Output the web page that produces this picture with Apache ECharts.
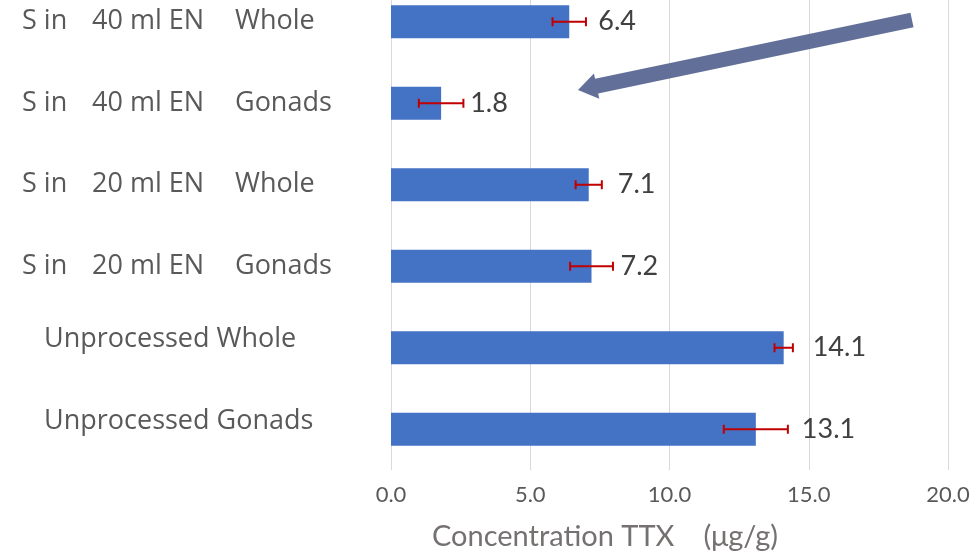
<!DOCTYPE html>
<html lang="en">
<head>
    <meta charset="UTF-8">
    <title>ttx_bar</title>
    <script src="https://cdn.jsdelivr.net/npm/echarts@6/dist/echarts.min.js"></script>
    <style>
        html, body { margin: 0; padding: 0; background: #fff; }
        #main { width: 980px; height: 556px; }
    </style>
</head>
<body>
<div id="main"></div>
<script>
    // categories, top to bottom
    var categories = [
        'S in 40 ml EN Whole',
        'S in 40 ml EN Gonads',
        'S in 20 ml EN Whole',
        'S in 20 ml EN Gonads',
        'Unprocessed Whole',
        'Unprocessed Gonads'
    ];
    var values = [6.4, 1.8, 7.1, 7.2, 14.1, 13.1];
    // error bar half-widths
    var errors = [0.6, 0.8, 0.47, 0.77, 0.33, 1.15];
    var xTicks = [0, 5, 10, 15, 20];

    var chart = echarts.init(document.getElementById('main'));

    var errData = values.map(function (v, i) {
        return [i, v - errors[i], v + errors[i]];
    });

    // the last label sits further out in the original
    var barData = values.map(function (v, i) {
        return i === 5 ? { value: v, label: { distance: 46 } } : v;
    });

    // arrow annotation (tail -> tip)
    function arrowPoints(tail, tip, shaftHalf, headHalf, headLen) {
        var dx = tip[0] - tail[0], dy = tip[1] - tail[1];
        var len = Math.sqrt(dx * dx + dy * dy);
        var ux = dx / len, uy = dy / len;
        var px = -uy, py = ux;
        var bx = tip[0] - ux * headLen, by = tip[1] - uy * headLen;
        return [
            [tail[0] + px * shaftHalf, tail[1] + py * shaftHalf],
            [bx + px * shaftHalf, by + py * shaftHalf],
            [bx + px * headHalf, by + py * headHalf],
            tip,
            [bx - px * headHalf, by - py * headHalf],
            [bx - px * shaftHalf, by - py * shaftHalf],
            [tail[0] - px * shaftHalf, tail[1] - py * shaftHalf]
        ];
    }

    var labelFont = { fontFamily: 'Open Sans', fontSize: 27, color: '#595959' };

    chart.setOption({
        animation: false,
        grid: { left: 391, right: 32, top: -19, bottom: 86, outerBoundsMode: 'none' },
        xAxis: {
            type: 'value',
            min: 0,
            max: 20,
            interval: 5,
            name: 'Concentration TTX\u3000(\u03bcg/g)',
            nameLocation: 'middle',
            nameGap: 52,
            nameTextStyle: {
                fontFamily: 'Lato',
                fontSize: 29,
                color: '#757171',
                padding: [0, 129, 0, 0]
            },
            axisLine: { show: false },
            axisTick: { show: false },
            axisLabel: {
                margin: 14,
                fontFamily: 'Lato',
                fontSize: 22,
                color: '#595959',
                formatter: function (v) {
                    return xTicks.indexOf(v) >= 0 ? v.toFixed(1) : '';
                }
            },
            splitLine: { lineStyle: { color: '#d9d9d9', width: 1 } }
        },
        yAxis: {
            type: 'category',
            data: categories,
            inverse: true,
            axisLine: { show: false },
            axisTick: { show: false },
            axisLabel: {
                align: 'left',
                margin: 369,
                formatter: function (v) {
                    var m = v.match(/^S in (\d+ ml EN) (\w+)$/);
                    if (m) {
                        return '{s|S in}{n|' + m[1] + '}{w|' + m[2] + '}';
                    }
                    return '{u|' + v + '}';
                },
                rich: {
                    s: Object.assign({ width: 70 }, labelFont),
                    n: Object.assign({ width: 143 }, labelFont),
                    w: Object.assign({}, labelFont),
                    u: Object.assign({ padding: [0, 0, 16, 22] }, labelFont)
                }
            }
        },
        series: [
            {
                type: 'bar',
                data: barData,
                barWidth: 33,
                itemStyle: { color: '#4472C4' },
                label: {
                    show: true,
                    position: 'right',
                    distance: 29,
                    fontFamily: 'Lato',
                    fontSize: 27,
                    color: '#404040',
                    formatter: function (p) { return p.value.toFixed(1); }
                },
                z: 2
            },
            {
                type: 'custom',
                data: errData,
                z: 3,
                renderItem: function (params, api) {
                    var i = api.value(0);
                    var lo = api.coord([api.value(1), i]);
                    var hi = api.coord([api.value(2), i]);
                    var cap = 4.5;
                    var style = { stroke: '#C00000', lineWidth: 2 };
                    return {
                        type: 'group',
                        children: [
                            { type: 'line', shape: { x1: lo[0], y1: lo[1], x2: hi[0], y2: hi[1] }, style: style },
                            { type: 'line', shape: { x1: lo[0], y1: lo[1] - cap, x2: lo[0], y2: lo[1] + cap }, style: style },
                            { type: 'line', shape: { x1: hi[0], y1: hi[1] - cap, x2: hi[0], y2: hi[1] + cap }, style: style }
                        ]
                    };
                }
            }
        ],
        graphic: [
            {
                type: 'polygon',
                shape: { points: arrowPoints([912, 20], [578, 90], 7.5, 13, 19) },
                style: { fill: '#627099' },
                z: 10
            }
        ]
    });
</script>
</body>
</html>
